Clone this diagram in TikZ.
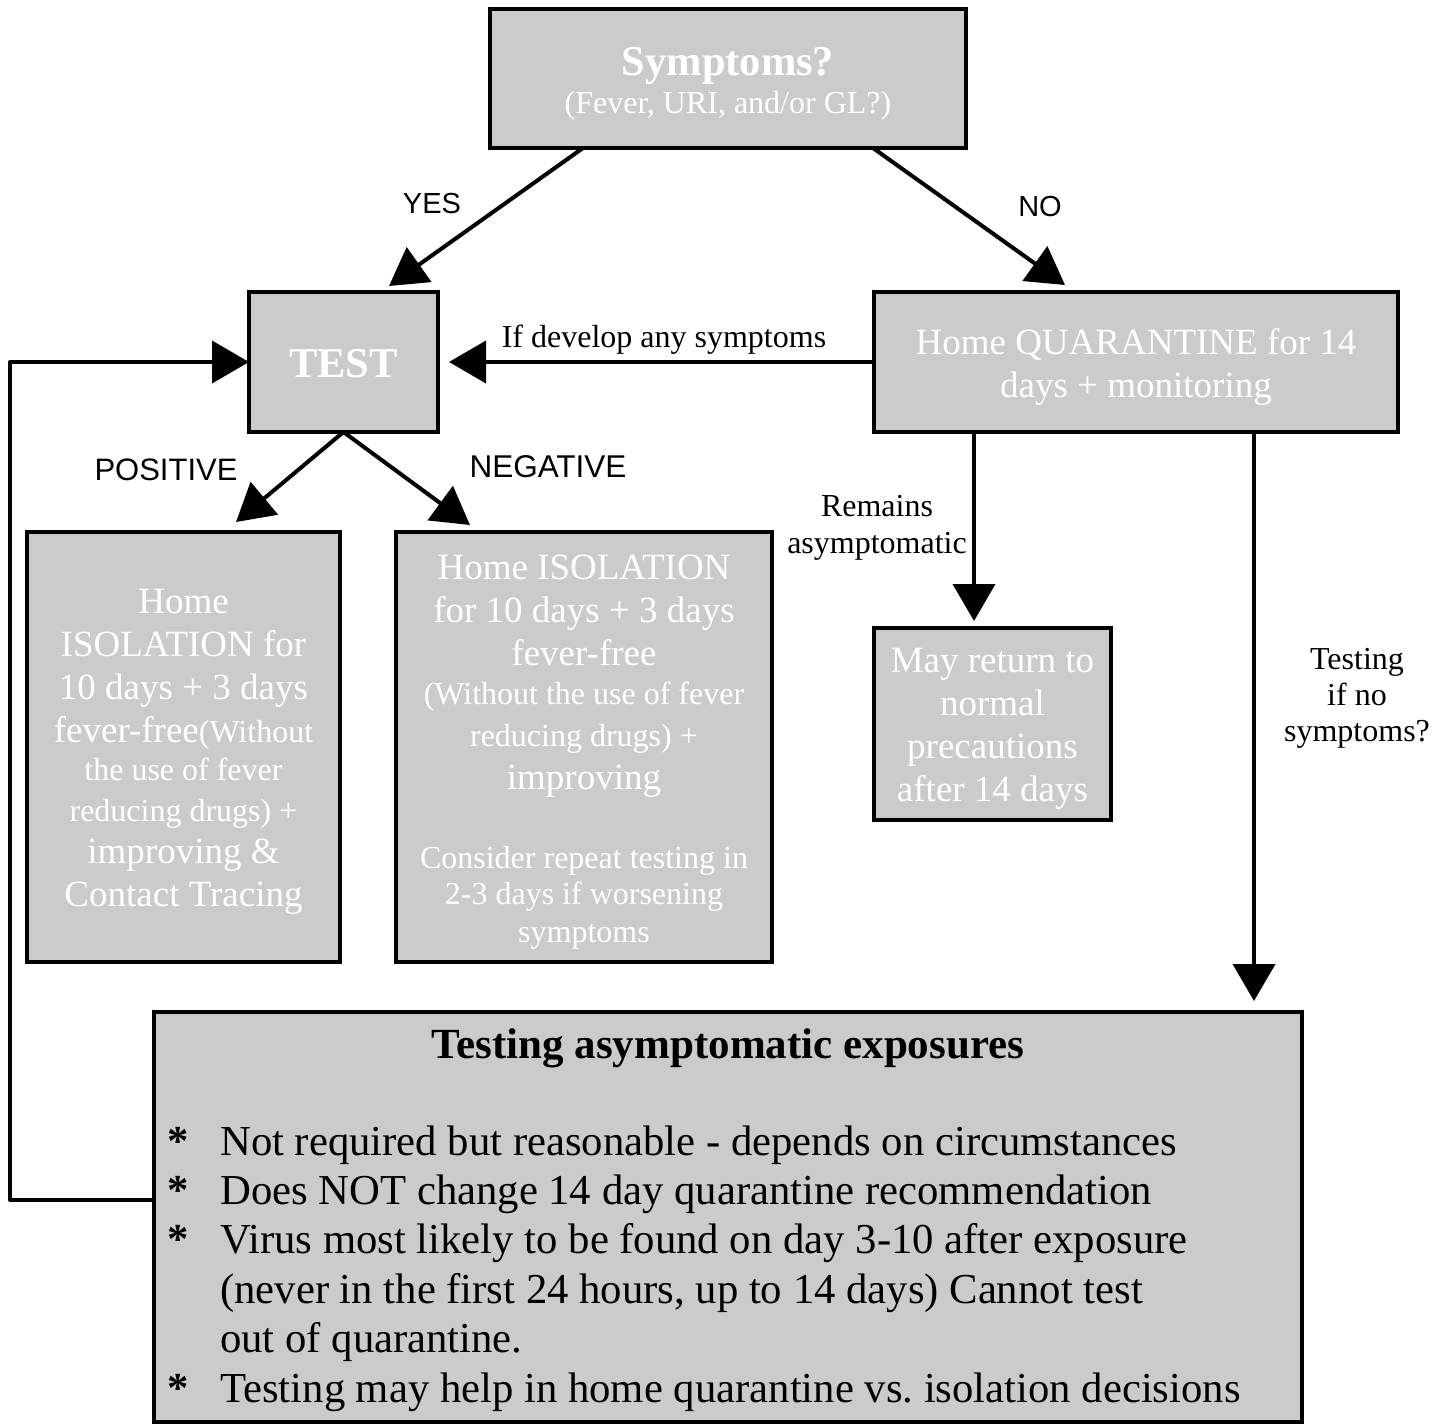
\documentclass[tikz,border=0pt]{standalone}
\usepackage{fontspec}
\setmainfont{Liberation Serif}
\newfontfamily\arialf{Liberation Sans}
\usetikzlibrary{arrows.meta,calc}
\definecolor{boxgray}{HTML}{CBCBCB}
\frenchspacing
\newcommand\fBig{\fontsize{37}{43}\selectfont}
\newcommand\fSmall{\fontsize{32}{37}\selectfont}
\newcommand\fHead{\fontsize{42.5}{43}\selectfont\bfseries}
\newcommand\fList{\fontsize{42.7}{49}\selectfont}
\tikzset{
  box/.style={draw=black, line width=4pt, fill=boxgray, inner sep=0pt, outer sep=0pt},
  btext/.style={text=white, inner sep=0pt, align=center, font=\fBig},
  sanslab/.style={font=\arialf\fontsize{29}{33}\selectfont, inner sep=0pt},
  serlab/.style={font=\fontsize{32}{37}\selectfont, inner sep=0pt, align=center},
  listtxt/.style={font=\fList, inner sep=0pt, anchor=base west},
  star/.style={font=\fList\bfseries, inner sep=0pt, anchor=base},
  arr/.style={draw=black, line width=4pt, line join=round, -{Triangle[length=37pt,width=42pt]}}
}
\begin{document}
\begin{tikzpicture}[x=1pt,y=-1pt]
\useasboundingbox (0,0) rectangle (1449,1426);
% boxes
\node[box, minimum width=476pt, minimum height=139pt] (sym) at (728,78.5) {};
\node[btext] (symt) at ($(sym.center)+(0,5.5)$)
  {{\fHead Symptoms?}\\[-5pt]{\fSmall (Fever, URI, and/or GL?)}};
\node[box, minimum width=189pt, minimum height=140pt] (test) at (343.5,362) {};
\node[btext] (testt) at ($(test.center)+(0,2)$) {\fHead TEST};
\node[box, minimum width=524pt, minimum height=140pt] (quar) at (1136,362) {};
\node[btext] (quart) at ($(quar.center)+(0,5)$) {Home QUARANTINE for 14\\days + monitoring};
\node[box, minimum width=313pt, minimum height=430pt] (pos) at (183.5,747) {};
\node[btext] (post) at ($(pos.center)+(0,5)$)
  {Home\\ISOLATION for\\10 days + 3 days\\fever-free{\fSmall(Without}\\[-5pt]{\fSmall the use of fever}\\[-2pt]{\fSmall reducing drugs) +}\\[-1pt]improving \&\\Contact Tracing};
\node[box, minimum width=376pt, minimum height=430pt] (neg) at (584,747) {};
\node[btext] (negt) at ($(neg.center)+(0,5)$)
  {Home ISOLATION\\for 10 days + 3 days\\fever-free\\[-4pt]{\fSmall (Without the use of fever}\\[-1pt]{\fSmall reducing drugs) +}\\improving\\[36pt]{\fSmall Consider repeat testing in}\\[-7pt]{\fSmall 2-3 days if worsening}\\[-5pt]{\fSmall symptoms}};
\node[box, minimum width=237pt, minimum height=192pt] (may) at (992.5,724) {};
\node[btext] (mayt) at ($(may.center)+(0,5)$) {May return to\\normal\\precautions\\after 14 days};
\node[box, minimum width=1148pt, minimum height=410pt] (bot) at (728,1217) {};
% bottom box text
\node[font=\fontsize{43}{45}\selectfont\bfseries, inner sep=0pt, anchor=base] (ttl) at (728,1058) {Testing asymptomatic exposures};
\node[star] (s1) at (178,1155) {*};
\node[listtxt] (l1) at (220,1155) {Not required but reasonable - depends on circumstances};
\node[star] (s2) at (178,1204) {*};
\node[listtxt] (l2) at (220,1204) {Does NOT change 14 day quarantine recommendation};
\node[star] (s3) at (178,1253) {*};
\node[listtxt] (l3) at (220,1253) {Virus most likely to be found on day 3-10 after exposure};
\node[listtxt] (l4) at (220,1303) {(never in the first 24 hours, up to 14 days) Cannot test};
\node[listtxt] (l5) at (220,1352) {out of quarantine.};
\node[star] (s4) at (178,1402) {*};
\node[listtxt] (l6) at (220,1402) {Testing may help in home quarantine vs.\ isolation decisions};
% labels
\node[sanslab] (yes) at (432,204) {YES};
\node[sanslab] (no) at (1040,207) {NO};
\node[sanslab, font=\arialf\fontsize{31}{33}\selectfont] (posl) at (166,470) {POSITIVE};
\node[sanslab, font=\arialf\fontsize{31.5}{33}\selectfont] (negl) at (548,467) {NEGATIVE};
\node[serlab] (ifdev) at (664,340) {If develop any symptoms};
\node[serlab] (rem) at (877,528) {Remains\\asymptomatic};
\node[serlab, font=\fontsize{32}{36}\selectfont] (tins) at (1357,698) {Testing\\if no\\symptoms?};
% connectors
\draw[arr] ($(sym.south west)+(93,0)$) -- ($(test.north west)+(140,-6)$);
\draw[arr] ($(sym.south west)+(383,0)$) -- ($(quar.north west)+(191,-7)$);
\draw[arr] (quar.west) -- ($(test.east)+(11,0)$);
\draw[arr] (test.south) -- ($(pos.north west)+(209,-10)$);
\draw[arr] (test.south) -- ($(neg.north west)+(74,-7)$);
\draw[arr] ($(quar.south west)+(100,0)$) -- ($(may.north west)+(100,-7)$);
\draw[arr] ($(quar.south west)+(380,0)$) -- ($(bot.north west)+(1100,-11)$);
\coordinate (fb) at (10,1200);
\draw[arr] ($(bot.west)+(0,-17)$) -- (fb) |- (test.west);
\end{tikzpicture}
\end{document}
